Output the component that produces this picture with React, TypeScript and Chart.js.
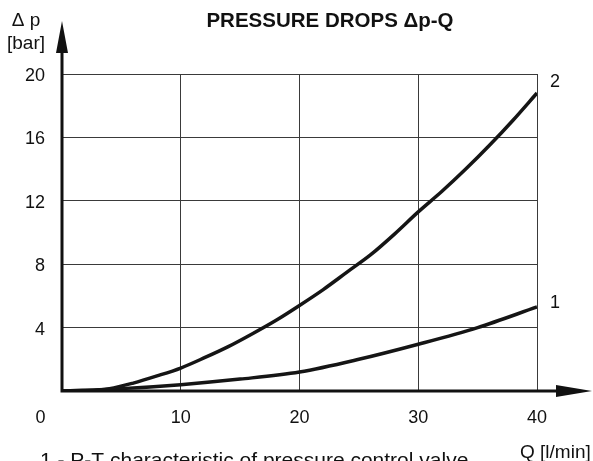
import React, { useEffect, useRef } from "react";
import { Chart, registerables } from "chart.js";

Chart.register(...registerables);

const flowQ = [0, 2, 4, 6, 8, 10, 12, 14, 16, 18, 20, 22, 24, 26, 28, 30, 32, 34, 36, 38, 40];
const curve2 = [0, 0.02, 0.15, 0.5, 0.95, 1.45, 2.1, 2.8, 3.6, 4.45, 5.4, 6.4, 7.5, 8.6, 9.9, 11.3, 12.6, 14.0, 15.5, 17.1, 18.8];
const flowQ1 = [0, 5, 10, 15, 20, 25, 30, 35, 40];
const curve1 = [0, 0.15, 0.4, 0.75, 1.2, 2.0, 2.95, 4.0, 5.3];
const xTickLabels = [0, 10, 20, 30, 40];
const yTickLabels = [4, 8, 12, 16, 20];
const titleText = "PRESSURE DROPS \u0394p-Q";
const footnote = "1 - P-T characteristic of pressure control valve";

const FONT = "'Liberation Sans', Arial, sans-serif";

const decorPlugin = {
  id: "decor",
  afterDraw(chart: any) {
    const ctx = chart.ctx;
    const xs = chart.scales.x;
    const ys = chart.scales.y;
    const x0 = xs.getPixelForValue(0);
    const y0 = ys.getPixelForValue(0);
    const x40 = xs.getPixelForValue(40);
    ctx.save();
    // axes
    ctx.strokeStyle = "#111";
    ctx.fillStyle = "#111";
    ctx.lineWidth = 3;
    ctx.beginPath();
    ctx.moveTo(x0, y0);
    ctx.lineTo(x0, 40);
    ctx.moveTo(x0 - 1.5, y0);
    ctx.lineTo(570, y0);
    ctx.stroke();
    // y arrow
    ctx.beginPath();
    ctx.moveTo(x0, 21);
    ctx.lineTo(x0 - 6, 53);
    ctx.lineTo(x0 + 6, 53);
    ctx.closePath();
    ctx.fill();
    // x arrow
    ctx.beginPath();
    ctx.moveTo(592, y0);
    ctx.lineTo(556, y0 - 6);
    ctx.lineTo(556, y0 + 6);
    ctx.closePath();
    ctx.fill();
    // tick labels
    ctx.font = `18px ${FONT}`;
    ctx.textBaseline = "alphabetic";
    ctx.textAlign = "center";
    xTickLabels.forEach((v) => {
      const px = v === 0 ? 40.5 : xs.getPixelForValue(v);
      ctx.fillText(String(v), px, 423);
    });
    ctx.textAlign = "right";
    yTickLabels.forEach((v) => {
      ctx.fillText(String(v), 45, ys.getPixelForValue(v) + 7);
    });
    // curve labels
    ctx.textAlign = "left";
    ctx.fillText("2", x40 + 13, ys.getPixelForValue(18.8) - 6);
    ctx.fillText("1", x40 + 13, ys.getPixelForValue(5.3) + 1);
    // axis titles
    ctx.font = `19px ${FONT}`;
    ctx.textAlign = "center";
    ctx.fillText("\u0394 p", 26, 26);
    ctx.fillText("[bar]", 26, 49);
    ctx.textAlign = "left";
    ctx.fillText("Q [l/min]", 520, 458);
    ctx.font = `21px ${FONT}`;
    ctx.fillText(footnote, 40, 467);
    // title
    ctx.font = `bold 20.5px ${FONT}`;
    ctx.textAlign = "center";
    ctx.fillText(titleText, 330, 27);
    ctx.restore();
  },
};

export default function App() {
  const ref = useRef<HTMLCanvasElement>(null);
  useEffect(() => {
    if (!ref.current) return;
    const chart = new Chart(ref.current, {
      type: "line",
      data: {
        datasets: [
          {
            label: "2",
            data: flowQ.map((q, i) => ({ x: q, y: curve2[i] })),
            borderColor: "#151515",
            borderWidth: 3.5,
            pointRadius: 0,
            cubicInterpolationMode: "monotone",
            fill: false,
          },
          {
            label: "1",
            data: flowQ1.map((q, i) => ({ x: q, y: curve1[i] })),
            borderColor: "#151515",
            borderWidth: 3.5,
            pointRadius: 0,
            cubicInterpolationMode: "monotone",
            fill: false,
          },
        ],
      },
      options: {
        animation: false,
        responsive: false,
        devicePixelRatio: 1,
        layout: { padding: { left: 62, right: 56, top: 74, bottom: 70 } },
        plugins: { legend: { display: false }, tooltip: { enabled: false }, title: { display: false } },
        scales: {
          x: {
            type: "linear",
            min: 0,
            max: 40,
            ticks: { display: false, stepSize: 10 },
            grid: { color: "#3a3a3a", lineWidth: 1, drawTicks: false },
            border: { display: false },
          },
          y: {
            type: "linear",
            min: 0,
            max: 20,
            ticks: { display: false, stepSize: 4 },
            grid: { color: "#3a3a3a", lineWidth: 1, drawTicks: false },
            border: { display: false },
          },
        },
      },
      plugins: [decorPlugin],
    } as any);
    return () => chart.destroy();
  }, []);
  return (
    <canvas
      ref={ref}
      width={593}
      height={461}
      style={{ position: "absolute", left: 0, top: 0, width: 593, height: 461, background: "#fff" }}
    />
  );
}
